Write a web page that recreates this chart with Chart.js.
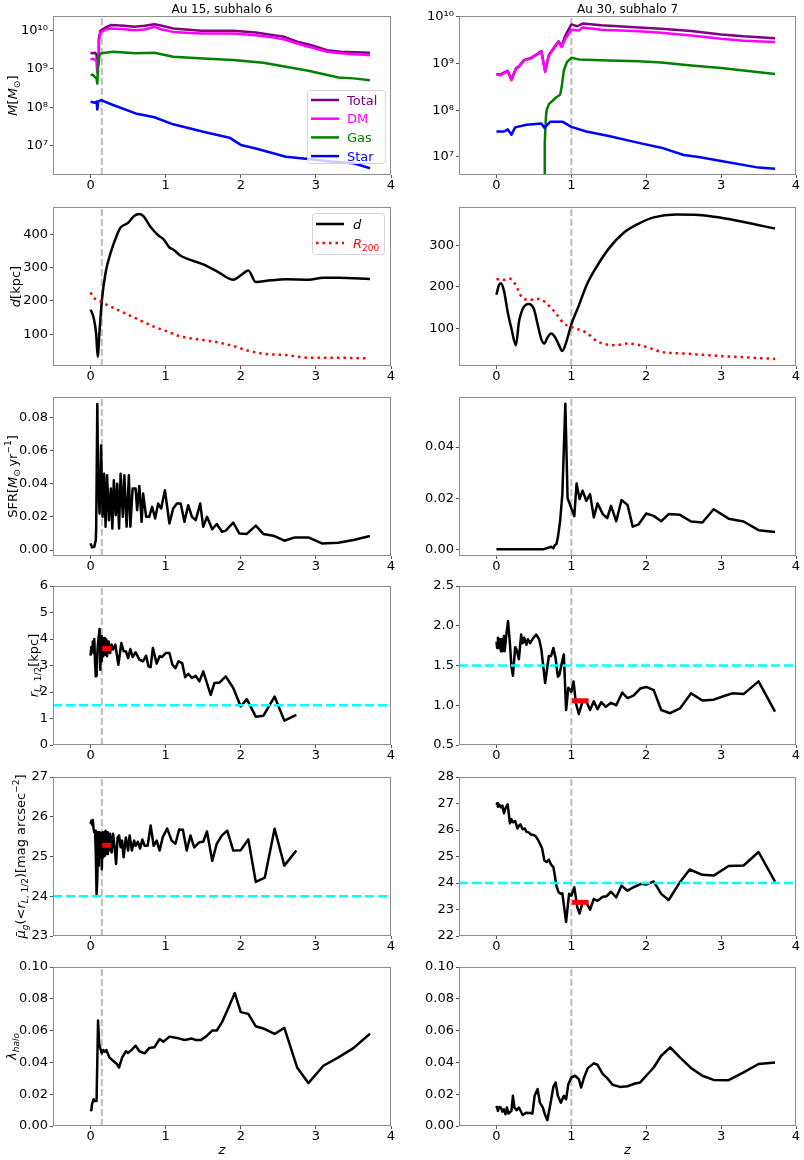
<!DOCTYPE html>
<html lang="en">
<head>
<meta charset="UTF-8">
<title>Au 15 subhalo 6 / Au 30 subhalo 7</title>
<script src="https://cdn.jsdelivr.net/npm/chart.js"></script>
<style>
  body { margin: 0; background: #fff; }
  #fig { position: relative; width: 804px; height: 1160px; overflow: hidden; }
  .panel { position: absolute; }
</style>
</head>
<body>
<div id="fig"></div>
<script>
// values, [z, value] pairs
const zTicks = [0, 1, 2, 3, 4];
const infallZ = [0.15, 1.0];            // Au 15 sub 6, Au 30 sub 7
const panelTitles = ['Au 15, subhalo 6', 'Au 30, subhalo 7'];
const massSeries = ['Total', 'DM', 'Gas', 'Star'];

// row 1: masses
const au15Total = [[0,2.6e9],[0.03,2.5e9],[0.06,2.6e9],[0.08,2.3e9],[0.09,8.3e8],[0.1,1.5e9],[0.11,6e9],[0.13,9.5e9],[0.2,1.17e10],[0.27,1.35e10],[0.45,1.3e10],[0.58,1.22e10],[0.72,1.3e10],[0.85,1.43e10],[0.95,1.3e10],[1.1,1.1e10],[1.47,9.6e9],[1.9,9.6e9],[2.2,8.7e9],[2.44,7.4e9],[2.58,6.7e9],[2.75,5.0e9],[2.93,4.1e9],[3.15,3.0e9],[3.33,2.75e9],[3.72,2.6e9]];
const au15Dm = [[0,1.74e9],[0.03,1.8e9],[0.06,1.7e9],[0.08,1.6e9],[0.09,8e8],[0.1,1.3e9],[0.11,5e9],[0.13,8.5e9],[0.2,1.04e10],[0.27,1.1e10],[0.45,1.06e10],[0.58,1.0e10],[0.72,1.04e10],[0.85,1.22e10],[0.95,1.04e10],[1.1,9.0e9],[1.47,8.2e9],[1.9,8.2e9],[2.2,7.4e9],[2.44,6.45e9],[2.58,5.7e9],[2.75,4.5e9],[2.93,3.6e9],[3.15,2.74e9],[3.33,2.5e9],[3.72,2.24e9]];
const au15Gas = [[0,6.8e8],[0.03,7.0e8],[0.06,6.0e8],[0.08,5.5e8],[0.09,4.1e8],[0.1,1.2e9],[0.12,2.3e9],[0.14,2.5e9],[0.3,2.74e9],[0.6,2.5e9],[0.85,2.6e9],[1.1,2.04e9],[1.5,1.84e9],[1.9,1.67e9],[2.3,1.42e9],[2.6,1.12e9],[2.9,8.8e8],[3.3,5.9e8],[3.5,5.6e8],[3.72,5.0e8]];
const au15Star = [[0,1.38e8],[0.03,1.35e8],[0.06,1.3e8],[0.08,1.4e8],[0.09,8.7e7],[0.1,1.4e8],[0.14,1.52e8],[0.3,1.14e8],[0.6,6.9e7],[0.85,5.5e7],[1.1,3.6e7],[1.5,2.3e7],[1.85,1.62e7],[2.0,1.05e7],[2.2,8.5e6],[2.6,5.2e6],[2.9,4.5e6],[3.2,3.9e6],[3.5,3.5e6],[3.72,2.6e6]];
const au30Total = [[0,6.0e8],[0.05,5.8e8],[0.1,6.4e8],[0.15,7.0e8],[0.2,4.6e8],[0.26,7.9e8],[0.3,8.7e8],[0.37,1.2e9],[0.45,1.3e9],[0.55,1.62e9],[0.6,1.85e9],[0.65,6.9e8],[0.7,1.53e9],[0.8,2.6e9],[0.83,3.0e9],[0.87,2.4e9],[0.92,4.0e9],[1.0,6.9e9],[1.08,6.3e9],[1.15,7.2e9],[1.4,6.6e9],[1.9,5.9e9],[2.2,5.6e9],[2.6,5.0e9],[3.0,4.2e9],[3.3,3.83e9],[3.72,3.5e9]];
const au30Dm = [[0,5.8e8],[0.05,5.6e8],[0.1,6.2e8],[0.15,6.8e8],[0.2,4.4e8],[0.26,7.7e8],[0.3,8.5e8],[0.37,1.17e9],[0.45,1.26e9],[0.55,1.58e9],[0.6,1.8e9],[0.65,6.6e8],[0.7,1.49e9],[0.8,2.46e9],[0.83,2.9e9],[0.87,2.25e9],[0.92,3.4e9],[1.0,5.3e9],[1.1,5.1e9],[1.15,5.9e9],[1.4,5.3e9],[1.9,4.9e9],[2.2,4.6e9],[2.6,4.0e9],[3.0,3.4e9],[3.3,3.1e9],[3.72,2.9e9]];
const au30Gas = [[0.638,3e6],[0.645,2e7],[0.66,7e7],[0.67,1.0e8],[0.7,1.35e8],[0.8,1.9e8],[0.85,2.15e8],[0.87,3.1e8],[0.9,7.1e8],[0.94,1.07e9],[1.0,1.33e9],[1.1,1.23e9],[1.5,1.17e9],[1.9,1.12e9],[2.2,1.05e9],[2.6,9.1e8],[3.0,8.0e8],[3.3,7.1e8],[3.72,6.0e8]];
const au30Star = [[0,3.5e7],[0.1,3.5e7],[0.15,3.9e7],[0.2,3.0e7],[0.25,4.3e7],[0.4,4.9e7],[0.6,5.2e7],[0.64,4.2e7],[0.72,5.7e7],[0.88,5.7e7],[1.0,4.4e7],[1.2,3.5e7],[1.5,2.8e7],[1.9,2.0e7],[2.2,1.58e7],[2.5,1.1e7],[2.7,1.0e7],[3.0,8.2e6],[3.5,5.9e6],[3.72,5.6e6]];
const massTicks = [1e7, 1e8, 1e9, 1e10];

// row 2: distance d and R200 [kpc]
const au15D = [[0,174],[0.04,150],[0.075,100],[0.095,32],[0.12,110],[0.15,200],[0.2,285],[0.27,347],[0.35,398],[0.4,421],[0.5,435],[0.58,456],[0.65,462],[0.7,456],[0.8,423],[0.9,398],[0.97,386],[1.05,361],[1.1,355],[1.2,336],[1.3,326],[1.5,310],[1.7,287],[1.9,264],[2.0,277],[2.1,292],[2.2,257],[2.4,262],[2.6,265],[2.9,264],[3.1,270],[3.3,270],[3.72,266]];
const au15R200 = [[0,226],[0.03,213],[0.15,196],[0.4,169],[0.6,148],[0.85,122],[1.0,110],[1.2,93],[1.5,82],[1.7,75],[1.9,64],[2.1,50],[2.3,41],[2.6,37],[2.9,29],[3.2,29],[3.7,27]];
const au30D = [[0,181],[0.03,203],[0.06,209],[0.1,191],[0.15,140],[0.2,100],[0.26,60],[0.3,115],[0.35,147],[0.43,159],[0.5,147],[0.55,110],[0.6,74],[0.64,64],[0.68,78],[0.73,88],[0.78,80],[0.83,62],[0.88,46],[0.93,66],[1.0,110],[1.1,155],[1.2,203],[1.35,252],[1.5,292],[1.7,330],[1.9,352],[2.1,367],[2.4,374],[2.7,373],[3.0,366],[3.3,356],[3.72,340]];
const au30R200 = [[0,219],[0.1,217],[0.17,220],[0.25,207],[0.35,173],[0.45,169],[0.57,171],[0.7,155],[0.8,135],[0.9,112],[1.0,104],[1.2,90],[1.35,69],[1.6,60],[1.75,64],[2.0,56],[2.2,44],[2.5,40],[3.0,34],[3.4,30],[3.72,27]];

// row 3: SFR [Msun/yr]
const au15Sfr = [[0,0.004],[0.02,0.0016],[0.05,0.002],[0.07,0.006],[0.075,0.014],[0.09,0.088],[0.1,0.042],[0.12,0.022],[0.14,0.063],[0.16,0.020],[0.18,0.046],[0.2,0.014],[0.22,0.045],[0.245,0.018],[0.27,0.037],[0.29,0.013],[0.31,0.042],[0.335,0.021],[0.355,0.040],[0.38,0.013],[0.4,0.046],[0.43,0.020],[0.45,0.045],[0.48,0.014],[0.51,0.045],[0.53,0.014],[0.56,0.037],[0.6,0.037],[0.62,0.024],[0.65,0.0386],[0.68,0.017],[0.7,0.034],[0.74,0.020],[0.78,0.020],[0.82,0.026],[0.86,0.019],[0.9,0.028],[0.94,0.025],[0.99,0.036],[1.05,0.016],[1.1,0.025],[1.15,0.028],[1.2,0.028],[1.25,0.017],[1.3,0.027],[1.35,0.020],[1.4,0.018],[1.46,0.028],[1.5,0.014],[1.55,0.020],[1.62,0.0125],[1.68,0.0157],[1.75,0.011],[1.8,0.0117],[1.9,0.0165],[1.98,0.010],[2.08,0.0097],[2.2,0.0147],[2.3,0.0097],[2.45,0.0084],[2.58,0.0056],[2.72,0.0076],[2.9,0.0076],[3.08,0.004],[3.3,0.0044],[3.5,0.006],[3.72,0.0084]];
const au30Sfr = [[0,0],[0.62,0],[0.7,0.0007],[0.73,0.001],[0.76,0.0004],[0.78,0.0017],[0.8,0.002],[0.82,0.0046],[0.85,0.011],[0.88,0.0216],[0.92,0.057],[0.95,0.020],[1.04,0.013],[1.07,0.0258],[1.11,0.0197],[1.15,0.023],[1.2,0.019],[1.25,0.0216],[1.3,0.0125],[1.35,0.018],[1.42,0.0138],[1.48,0.0122],[1.53,0.017],[1.6,0.011],[1.67,0.0193],[1.75,0.0174],[1.82,0.0089],[1.9,0.0098],[2.0,0.014],[2.1,0.0131],[2.2,0.011],[2.3,0.0138],[2.45,0.0135],[2.6,0.0109],[2.75,0.0105],[2.9,0.0157],[3.1,0.012],[3.3,0.0109],[3.5,0.0075],[3.72,0.0068]];

// row 4: half-light radius [kpc]
const au15Rhalf = [[0,3.37],[0.01,3.7],[0.02,3.6],[0.03,3.91],[0.04,3.47],[0.05,4.0],[0.06,3.1],[0.07,2.59],[0.08,2.61],[0.09,3.47],[0.1,3.85],[0.12,4.38],[0.13,2.84],[0.14,4.1],[0.15,3.16],[0.16,4.04],[0.17,3.35],[0.19,4.04],[0.2,3.41],[0.21,3.98],[0.22,3.35],[0.24,3.91],[0.26,3.47],[0.28,3.79],[0.3,3.6],[0.33,3.79],[0.37,3.03],[0.41,3.85],[0.44,3.54],[0.47,3.54],[0.5,3.28],[0.53,3.62],[0.56,3.32],[0.6,3.5],[0.65,3.22],[0.7,3.16],[0.74,3.37],[0.77,2.97],[0.8,2.94],[0.83,3.66],[0.88,3.07],[0.92,3.35],[0.95,3.32],[1.0,3.47],[1.05,3.47],[1.09,3.03],[1.13,2.9],[1.17,3.16],[1.22,3.09],[1.26,2.56],[1.3,2.69],[1.35,2.53],[1.4,2.61],[1.45,2.4],[1.5,2.78],[1.6,1.89],[1.65,2.34],[1.72,2.36],[1.8,2.59],[1.9,2.15],[2.0,1.45],[2.08,1.73],[2.2,1.07],[2.3,1.1],[2.45,1.83],[2.58,0.92],[2.74,1.14]];
const au30Rhalf = [[0,1.8],[0.01,1.72],[0.02,1.85],[0.03,1.72],[0.05,1.83],[0.06,1.68],[0.07,1.83],[0.08,1.68],[0.1,1.87],[0.11,1.68],[0.13,1.87],[0.155,2.06],[0.18,1.78],[0.2,1.49],[0.22,1.37],[0.25,1.73],[0.27,1.7],[0.3,1.58],[0.33,1.89],[0.35,1.78],[0.37,1.85],[0.4,1.76],[0.42,1.83],[0.45,1.78],[0.48,1.83],[0.53,1.89],[0.57,1.83],[0.6,1.7],[0.65,1.28],[0.7,1.62],[0.73,1.62],[0.76,1.72],[0.79,1.59],[0.82,1.36],[0.84,1.38],[0.87,1.52],[0.9,1.64],[0.93,0.94],[0.96,1.22],[1.0,1.17],[1.03,1.3],[1.06,1.03],[1.1,0.89],[1.15,1.05],[1.2,1.05],[1.25,0.94],[1.3,1.05],[1.35,0.95],[1.4,1.04],[1.46,0.98],[1.53,1.03],[1.6,1.0],[1.68,1.16],[1.75,1.09],[1.83,1.12],[1.92,1.21],[2.0,1.23],[2.1,1.19],[2.2,0.94],[2.32,0.9],[2.45,0.96],[2.6,1.15],[2.75,1.06],[2.9,1.07],[3.05,1.12],[3.15,1.15],[3.3,1.14],[3.5,1.3],[3.72,0.92]];
const rHalfLimit = 1.5;
const au15RhalfAtInfall = [[0.155, 3.64], [0.27, 3.64]];
const au30RhalfAtInfall = [[1.01, 1.056], [1.23, 1.056]];

// row 5: mean surface brightness [mag arcsec^-2]
const au15Mu = [[0,25.82],[0.01,25.9],[0.02,25.8],[0.03,25.92],[0.04,25.7],[0.05,25.61],[0.06,25.65],[0.07,25.06],[0.08,24.05],[0.09,24.43],[0.1,25.61],[0.11,24.77],[0.12,25.61],[0.13,25.1],[0.14,25.57],[0.15,24.68],[0.16,25.61],[0.17,24.98],[0.18,25.61],[0.19,25.02],[0.2,25.65],[0.22,25.06],[0.23,25.61],[0.25,25.15],[0.26,25.57],[0.28,25.1],[0.3,25.57],[0.32,25.23],[0.34,24.81],[0.36,25.48],[0.38,25.53],[0.4,25.23],[0.42,25.4],[0.44,24.98],[0.47,25.48],[0.5,25.15],[0.52,25.53],[0.55,25.15],[0.58,25.4],[0.6,25.27],[0.63,25.37],[0.66,25.2],[0.69,25.43],[0.72,25.27],[0.76,25.27],[0.8,25.78],[0.84,25.27],[0.88,25.4],[0.92,25.15],[0.96,25.48],[1.02,25.7],[1.08,25.4],[1.13,25.32],[1.18,25.68],[1.23,25.67],[1.28,25.15],[1.33,25.53],[1.38,25.23],[1.45,25.36],[1.5,25.37],[1.55,25.63],[1.62,24.89],[1.68,25.32],[1.75,25.53],[1.82,25.65],[1.9,25.15],[2.0,25.16],[2.1,25.43],[2.2,24.36],[2.32,24.47],[2.45,25.7],[2.58,24.77],[2.74,25.15]];
const au30Mu = [[0,26.95],[0.01,27.01],[0.02,26.88],[0.04,26.95],[0.06,26.85],[0.08,26.92],[0.1,26.63],[0.12,26.82],[0.15,26.97],[0.18,26.25],[0.2,26.41],[0.22,26.29],[0.25,26.34],[0.28,26.06],[0.3,26.16],[0.32,26.21],[0.35,26.03],[0.38,26.06],[0.4,25.93],[0.43,25.91],[0.46,25.83],[0.49,25.81],[0.52,25.78],[0.55,25.65],[0.58,25.49],[0.61,25.3],[0.64,24.85],[0.67,24.79],[0.7,24.88],[0.73,24.69],[0.76,24.6],[0.78,24.28],[0.8,23.9],[0.83,23.65],[0.86,23.59],[0.88,23.61],[0.93,22.53],[0.97,23.59],[1.0,23.52],[1.04,23.84],[1.08,23.08],[1.11,22.85],[1.15,23.27],[1.2,23.27],[1.25,22.99],[1.3,23.4],[1.35,23.33],[1.42,23.48],[1.47,23.5],[1.53,23.67],[1.6,23.46],[1.67,23.9],[1.75,23.71],[1.83,23.84],[1.93,23.97],[2.0,23.94],[2.1,24.06],[2.2,23.59],[2.3,23.36],[2.45,24.03],[2.58,24.51],[2.75,24.31],[2.9,24.28],[3.1,24.64],[3.3,24.66],[3.5,25.17],[3.72,24.05]];
const muLimit = 24;
const au15MuAtInfall = [[0.155, 25.28], [0.27, 25.28]];
const au30MuAtInfall = [[1.01, 23.27], [1.23, 23.27]];

// row 6: halo spin parameter
const au15Lambda = [[0,0.0105],[0.01,0.0099],[0.02,0.0137],[0.04,0.0168],[0.05,0.0158],[0.08,0.0158],[0.1,0.0663],[0.115,0.0516],[0.13,0.049],[0.15,0.0457],[0.17,0.0478],[0.19,0.0467],[0.21,0.0478],[0.25,0.0432],[0.3,0.041],[0.35,0.039],[0.38,0.0368],[0.42,0.043],[0.47,0.047],[0.5,0.046],[0.55,0.048],[0.6,0.0505],[0.65,0.047],[0.72,0.0457],[0.78,0.049],[0.85,0.0495],[0.92,0.0547],[0.97,0.053],[1.05,0.0562],[1.15,0.0554],[1.25,0.0541],[1.3,0.0545],[1.35,0.055],[1.4,0.0541],[1.47,0.0541],[1.55,0.0568],[1.62,0.06],[1.68,0.06],[1.75,0.0653],[1.82,0.0726],[1.92,0.0836],[2.0,0.0716],[2.1,0.0705],[2.2,0.0627],[2.32,0.061],[2.45,0.0579],[2.58,0.0617],[2.75,0.0368],[2.9,0.027],[3.1,0.0379],[3.3,0.0432],[3.5,0.049],[3.72,0.058]];
const au30Lambda = [[0,0.0126],[0.02,0.0095],[0.04,0.012],[0.06,0.0116],[0.08,0.009],[0.1,0.0105],[0.12,0.0074],[0.14,0.0116],[0.16,0.0078],[0.2,0.0095],[0.22,0.019],[0.24,0.0116],[0.27,0.0099],[0.3,0.0116],[0.35,0.0069],[0.4,0.0084],[0.45,0.0082],[0.48,0.0078],[0.51,0.019],[0.55,0.0232],[0.58,0.0147],[0.62,0.0116],[0.65,0.0069],[0.68,0.0036],[0.72,0.0137],[0.76,0.0246],[0.79,0.0274],[0.82,0.019],[0.86,0.0147],[0.9,0.019],[0.93,0.0168],[0.96,0.0263],[1.0,0.0305],[1.05,0.0316],[1.1,0.0295],[1.13,0.0242],[1.17,0.0305],[1.22,0.0364],[1.3,0.0394],[1.35,0.0385],[1.42,0.0326],[1.48,0.0301],[1.55,0.0259],[1.65,0.0246],[1.75,0.025],[1.85,0.0267],[1.92,0.0274],[2.0,0.0316],[2.1,0.0368],[2.2,0.0442],[2.32,0.0495],[2.45,0.0432],[2.6,0.0364],[2.75,0.0316],[2.9,0.029],[3.1,0.0288],[3.3,0.0337],[3.5,0.039],[3.72,0.04]];

// ---- drawing ----
Chart.defaults.font.family = '"DejaVu Sans", sans-serif';
Chart.defaults.color = '#000';

const PURPLE = '#800080', MAGENTA = '#ff00ff', GREEN = '#008000', BLUE = '#0000ff';
const rowTop = [16, 207, 397, 586, 777, 967];
const plotH = 159;
const fig = document.getElementById('fig');

const SUP = {'0':'⁰','1':'¹','2':'²','3':'³','4':'⁴','5':'⁵','6':'⁶','7':'⁷','8':'⁸','9':'⁹'};
const pow10 = v => '10' + String(Math.round(Math.log10(v))).split('').map(c => SUP[c]).join('');

function line(pairs, color, extra) {
  return Object.assign({
    data: pairs.map(([x, y]) => ({x, y})),
    borderColor: color, borderWidth: 2.5, pointRadius: 0,
    fill: false, tension: 0, borderJoinStyle: 'round'
  }, extra || {});
}
const vline = (z, lim) => line([[z, lim[0]], [z, lim[1]]], '#bcbcbc', {borderWidth: 2, borderDash: [7, 3]});
const hline = v => line([[-0.5, v], [4, v]], '#00ffff', {borderDash: [9, 4]});
const bar = pairs => line(pairs, '#ff0000', {borderWidth: 5, borderJoinStyle: 'miter'});
const smooth = {cubicInterpolationMode: 'monotone'};

// rich text (italic, sub, sup) for axis labels and legends
function fontFor(p, size) {
  const s = (p.sub || p.sup) ? Math.round(size * 0.7) : size;
  return (p.it ? 'italic ' : '') + s + 'px "DejaVu Sans"';
}
function richWidth(ctx, parts, size) {
  let w = 0;
  for (const p of parts) { ctx.font = fontFor(p, size); w += ctx.measureText(p.t).width; }
  return w;
}
function drawRich(ctx, parts, x, y, size, color) {
  ctx.textBaseline = 'alphabetic';
  ctx.textAlign = 'left';
  for (const p of parts) {
    ctx.font = fontFor(p, size);
    ctx.fillStyle = p.color || color;
    const dy = p.sub ? size * 0.22 : p.sup ? -size * 0.42 : 0;
    ctx.fillText(p.t, x, y + dy);
    x += ctx.measureText(p.t).width;
  }
}

const massLabel = [{t:'M',it:1},{t:'['},{t:'M',it:1},{t:'⊙',sub:1},{t:']'}];
const dLabel = [{t:'d',it:1},{t:'[kpc]'}];
const sfrLabel = [{t:'SFR['},{t:'M',it:1},{t:'⊙',sub:1},{t:'\u2009yr'},{t:'−1',sup:1},{t:']'}];
const rLabel = [{t:'r',it:1},{t:'L',sub:1,it:1},{t:', 1/2',sub:1},{t:'[kpc]'}];
const muLabel = [{t:'μ\u0304',it:1},{t:'g',sub:1,it:1},{t:'(<'},{t:'r',it:1},{t:'L',sub:1,it:1},{t:', 1/2',sub:1},{t:')[mag arcsec'},{t:'−2',sup:1},{t:']'}];
const lambdaLabel = [{t:'λ',it:1},{t:'halo',sub:1,it:1}];

const frame = {
  id: 'frame',
  afterDraw(chart) {
    const a = chart.chartArea, ctx = chart.ctx;
    ctx.save();
    ctx.strokeStyle = '#8c8c8c';
    ctx.lineWidth = 1;
    ctx.strokeRect(Math.round(a.left) + 0.5, Math.round(a.top) + 0.5, Math.round(a.width) - 1, Math.round(a.height) - 1);
    ctx.restore();
  }
};

function yTitle(parts, cx) {
  return {
    id: 'yTitle',
    afterDraw(chart) {
      const a = chart.chartArea, ctx = chart.ctx;
      ctx.save();
      ctx.translate(cx, (a.top + a.bottom) / 2);
      ctx.rotate(-Math.PI / 2);
      const w = richWidth(ctx, parts, 13);
      drawRich(ctx, parts, -w / 2, 13 * 0.36, 13, '#000');
      ctx.restore();
    }
  };
}

function boxLegend(cfg) {
  return {
    id: 'boxLegend',
    afterDraw(chart) {
      const a = chart.chartArea, ctx = chart.ctx;
      const x0 = Math.round(a.right - cfg.right - cfg.w);
      const y0 = Math.round(cfg.bottom != null ? a.bottom - cfg.bottom - cfg.h : a.top + cfg.top);
      ctx.save();
      ctx.beginPath();
      ctx.roundRect(x0 + 0.5, y0 + 0.5, cfg.w, cfg.h, 3);
      ctx.fillStyle = 'rgba(255,255,255,0.8)';
      ctx.fill();
      ctx.strokeStyle = '#d4d4d4';
      ctx.lineWidth = 1;
      ctx.stroke();
      cfg.items.forEach((it, i) => {
        const y = y0 + cfg.first + i * cfg.step;
        ctx.beginPath();
        ctx.setLineDash(it.dash || []);
        ctx.strokeStyle = it.color;
        ctx.lineWidth = 2.5;
        ctx.moveTo(x0 + 4, y);
        ctx.lineTo(x0 + 32, y);
        ctx.stroke();
        ctx.setLineDash([]);
        drawRich(ctx, it.parts, x0 + cfg.textX, y + 13 * 0.36, 13, it.color);
      });
      ctx.restore();
    }
  };
}

const massLegend = boxLegend({
  w: 78, h: 73, right: 6, bottom: 12, first: 10, step: 18.7, textX: 40,
  items: massSeries.map((name, i) => ({parts: [{t: name}], color: [PURPLE, MAGENTA, GREEN, BLUE][i]}))
});
const distLegend = boxLegend({
  w: 72, h: 41, right: 7, top: 6, first: 11, step: 19, textX: 41,
  items: [
    {parts: [{t: 'd', it: 1}], color: '#000'},
    {parts: [{t: 'R', it: 1}, {t: '200', sub: 1}], color: '#ff0000', dash: [2.5, 4]}
  ]
});

const fix = d => v => v.toFixed(d);
const ticksOf = (lo, hi, step) => {
  const out = [];
  for (let v = lo; v <= hi + 1e-9; v += step) out.push(+v.toFixed(4));
  return out;
};

const specs = [
  {row: 0, col: 0, type: 'logarithmic', lim: [1.74e6, 2.3e10], ticks: massTicks, fmt: pow10, label: massLabel, labelX: 12, legend: massLegend,
   sets: [line(au15Star, BLUE), line(au15Gas, GREEN), line(au15Dm, MAGENTA), line(au15Total, PURPLE)]},
  {row: 0, col: 1, type: 'logarithmic', lim: [4.1e6, 1.035e10], ticks: massTicks, fmt: pow10,
   sets: [line(au30Star, BLUE), line(au30Gas, GREEN), line(au30Dm, MAGENTA), line(au30Total, PURPLE)]},
  {row: 1, col: 0, lim: [4, 483], ticks: [100, 200, 300, 400], fmt: String, label: dLabel, labelX: 15, legend: distLegend,
   sets: [line(au15R200, '#ff0000', Object.assign({borderDash: [2.5, 4]}, smooth)), line(au15D, '#000', smooth)]},
  {row: 1, col: 1, lim: [10, 392], ticks: [100, 200, 300], fmt: String,
   sets: [line(au30R200, '#ff0000', Object.assign({borderDash: [2.5, 4]}, smooth)), line(au30D, '#000', smooth)]},
  {row: 2, col: 0, lim: [-0.0036, 0.0922], ticks: ticksOf(0, 0.08, 0.02), fmt: fix(2), label: sfrLabel, labelX: 12,
   sets: [line(au15Sfr, '#000')]},
  {row: 2, col: 1, lim: [-0.0026, 0.0596], ticks: ticksOf(0, 0.04, 0.02), fmt: fix(2),
   sets: [line(au30Sfr, '#000')]},
  {row: 3, col: 0, lim: [0, 6], ticks: ticksOf(0, 6, 1), fmt: String, label: rLabel, labelX: 33,
   sets: [bar(au15RhalfAtInfall), hline(rHalfLimit), line(au15Rhalf, '#000')]},
  {row: 3, col: 1, lim: [0.5, 2.5], ticks: ticksOf(0.5, 2.5, 0.5), fmt: fix(1),
   sets: [bar(au30RhalfAtInfall), hline(rHalfLimit), line(au30Rhalf, '#000')]},
  {row: 4, col: 0, lim: [23, 27], ticks: ticksOf(23, 27, 1), fmt: String, label: muLabel, labelX: 20,
   sets: [bar(au15MuAtInfall), hline(muLimit), line(au15Mu, '#000')]},
  {row: 4, col: 1, lim: [22, 28], ticks: ticksOf(22, 28, 1), fmt: String,
   sets: [bar(au30MuAtInfall), hline(muLimit), line(au30Mu, '#000')]},
  {row: 5, col: 0, lim: [0, 0.1], ticks: ticksOf(0, 0.1, 0.02), fmt: fix(2), label: lambdaLabel, labelX: 11,
   sets: [line(au15Lambda, '#000')]},
  {row: 5, col: 1, lim: [0, 0.1], ticks: ticksOf(0, 0.1, 0.02), fmt: fix(2),
   sets: [line(au30Lambda, '#000')]}
];

const tickGrid = {drawOnChartArea: false, drawTicks: true, tickLength: 3, tickColor: '#555', color: '#555'};

function makePanel(s) {
  const left = s.col ? 402 : 0;
  const width = s.col ? 400 : 398;
  const top = s.row === 0 ? 0 : rowTop[s.row] - 12;
  const xH = s.row === 5 ? 32 : 25;
  const height = (rowTop[s.row] - top) + plotH + xH;

  const box = document.createElement('div');
  box.className = 'panel';
  box.style.left = left + 'px';
  box.style.top = top + 'px';
  const cv = document.createElement('canvas');
  cv.width = width; cv.height = height;
  cv.style.width = width + 'px'; cv.style.height = height + 'px';
  box.appendChild(cv);
  fig.appendChild(box);

  const plugins = [frame];
  if (s.label) plugins.push(yTitle(s.label, s.labelX));
  if (s.legend) plugins.push(s.legend);

  new Chart(cv, {
    type: 'line',
    data: {datasets: s.sets.concat([vline(infallZ[s.col], s.lim)])},
    options: {
      responsive: false,
      animation: false,
      events: [],
      layout: {padding: {top: s.row === 0 ? 0 : 12, right: s.col ? 6 : 7, left: 0, bottom: 0}},
      plugins: {
        legend: {display: false},
        tooltip: {enabled: false},
        title: {
          display: s.row === 0,
          text: panelTitles[s.col],
          fullSize: false,
          color: '#000',
          font: {size: 12, weight: 'normal', lineHeight: 1.1},
          padding: {top: 3, bottom: 0}
        }
      },
      scales: {
        x: {
          type: 'linear', min: -0.5, max: 4,
          afterBuildTicks: sc => { sc.ticks = zTicks.map(v => ({value: v})); },
          afterFit: sc => { sc.height = xH; },
          ticks: {font: {size: 13}, color: '#000', padding: 0, autoSkip: false, maxRotation: 0, callback: v => String(v)},
          grid: tickGrid,
          border: {display: false},
          title: {display: s.row === 5, text: 'z', color: '#000', font: {size: 13, style: 'italic'}, padding: 0}
        },
        y: {
          type: s.type || 'linear', min: s.lim[0], max: s.lim[1],
          afterBuildTicks: sc => { sc.ticks = s.ticks.map(v => ({value: v})); },
          afterFit: sc => { sc.width = s.col ? 57 : 53; },
          ticks: {font: {size: 13}, color: '#000', padding: 2, autoSkip: false, callback: v => s.fmt(v)},
          grid: tickGrid,
          border: {display: false}
        }
      }
    },
    plugins
  });
}

specs.forEach(makePanel);
</script>
</body>
</html>
